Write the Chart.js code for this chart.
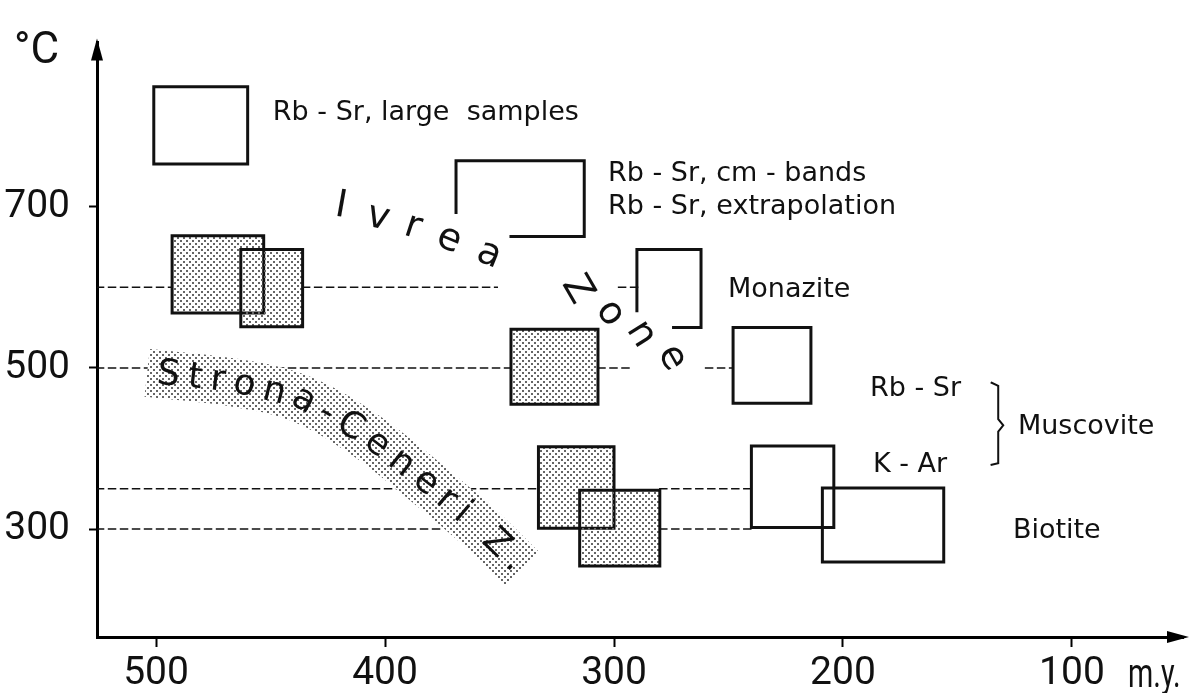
<!DOCTYPE html>
<html>
<head>
<meta charset="utf-8">
<script src="https://cdn.jsdelivr.net/npm/chart.js@4"></script>
<style>
  html, body { margin: 0; padding: 0; background: #fff; }
  #wrap { width: 1195px; height: 693px; }
</style>
</head>
<body>
<div id="wrap"><canvas id="chart" width="1195" height="693"></canvas></div>
<script>
// axis ticks (age in m.y., temperature in °C)
const xTicks = [500, 400, 300, 200, 100];
const yTicks = [300, 500, 700];

// boxes: [older age, younger age, low T, high T]
const rbSrLarge = [501, 460, 753, 849];
const rbSrMuscovite = [248, 214, 456, 550];
const kArMuscovite = [240, 204, 302, 403];
const biotiteBox = [209, 156, 259, 351];

// shaded boxes of the Strona-Ceneri zone
const shadedA = [493, 453, 568, 664];
const shadedB = [463, 436, 551, 647];
const shadedC = [345, 307, 455, 548];
const shadedD = [333, 300, 301, 402];
const shadedE = [315, 280, 254, 348];

// open brackets [age, T]
const cmBands = [[369, 693], [369, 757], [313, 757], [313, 663], [345, 663]];
const monazite = [[290, 571], [290, 647], [262, 647], [262, 550], [274, 550]];
const muscoviteBrace = [[135.1, 481.6], [132.2, 477.6], [132.2, 436.5], [130.0, 428.8], [132.2, 420.9], [132.2, 381.8], [135.1, 379.8]];

// dashed isotherms and the age ranges where they are drawn
const isoTemps = [600, 500, 350, 300];
const isoSegments = [
    [[526, 493], [436, 351], [298, 289.5]],
    [[526, 345], [307, 293], [260, 248]],
    [[526, 333], [280, 240]],
    [[526, 375], [280, 240]]
];

// centre line of the Strona-Ceneri band [age, T]
const bandPath = [[503.9, 493.7], [466.4, 481.9], [437.1, 462.0], [407.9, 415.0], [379.0, 350.5], [358.5, 301.2], [340.2, 250.7]];

// axis range
const X_MIN = 51.5, X_MAX = 525.8, Y_MIN = 166, Y_MAX = 904;

const TEXT_FONT = "'DejaVu Sans', 'Liberation Sans', sans-serif";
const NUM_FONT = "Roboto, 'Liberation Sans', sans-serif";

document.addEventListener('DOMContentLoaded', function() {
    drawFigure();
});

function makeDots(withBackground) {
    const c = document.createElement('canvas');
    c.width = 6;
    c.height = 6;
    const g = c.getContext('2d');
    if (withBackground) {
        g.fillStyle = '#fff';
        g.fillRect(0, 0, 6, 6);
    }
    g.fillStyle = '#666';
    g.fillRect(0, 0, 2, 2);
    g.fillRect(3, 3, 2, 2);
    return g.createPattern(c, 'repeat');
}

function boxPoints(b) {
    return [
        { x: b[0], y: b[2] }, { x: b[1], y: b[2] }, { x: b[1], y: b[3] },
        { x: b[0], y: b[3] }, { x: b[0], y: b[2] }
    ];
}

function pairPoints(list) {
    return list.map(p => ({ x: p[0], y: p[1] }));
}

function isoPoints(temp, segs) {
    const pts = [];
    segs.forEach((s, i) => {
        if (i > 0) pts.push({ x: (segs[i - 1][1] + s[0]) / 2, y: null });
        pts.push({ x: s[0], y: temp }, { x: s[1], y: temp });
    });
    return pts;
}

function drawTextAlongPath(ctx, pts, text, start, end) {
    const cum = [0];
    for (let i = 1; i < pts.length; i++) {
        cum.push(cum[i - 1] + Math.hypot(pts[i].x - pts[i - 1].x, pts[i].y - pts[i - 1].y));
    }
    const chars = [...text];
    const widths = chars.map(c => ctx.measureText(c).width);
    const total = widths.reduce((a, b) => a + b, 0);
    const gap = (end - start - total) / (chars.length - 1);
    let d = start;
    chars.forEach((c, k) => {
        const mid = d + widths[k] / 2;
        let i = 1;
        while (i < cum.length - 1 && cum[i] < mid) i++;
        const t = (mid - cum[i - 1]) / (cum[i] - cum[i - 1]);
        const px = pts[i - 1].x + t * (pts[i].x - pts[i - 1].x);
        const py = pts[i - 1].y + t * (pts[i].y - pts[i - 1].y);
        const ang = Math.atan2(pts[i].y - pts[i - 1].y, pts[i].x - pts[i - 1].x);
        ctx.save();
        ctx.translate(px, py);
        ctx.rotate(ang);
        ctx.fillText(c, 0, 0);
        ctx.restore();
        d += widths[k] + gap;
    });
}

// plain labels: [text, age of left edge, T of baseline]
const plainLabels = [
    ['Rb - Sr, large  samples', 449, 808],
    ['Rb - Sr, cm - bands', 302.6, 732],
    ['Rb - Sr, extrapolation', 302.6, 691],
    ['Monazite', 250.2, 588],
    ['Rb - Sr', 188.2, 465.5],
    ['K - Ar', 186.9, 370.4],
    ['Muscovite', 123.6, 418.5],
    ['Biotite', 125.8, 289.4]
];

// rotated letters of "Ivrea Zone": [char, age, T, degrees]
const ivreaLetters = [
    ['I', 419.2, 700.2, 10], ['v', 403.1, 686.2, 14], ['r', 387.8, 674.4, 18],
    ['e', 372.1, 659.2, 22], ['a', 354.6, 640.4, 22],
    ['Z', 316.2, 597.0, 60], ['o', 301.7, 567.6, 55], ['n', 288.2, 541.8, 58], ['e', 274.7, 512.4, 60]
];

const figureText = {
    id: 'figureText',
    afterDatasetsDraw(chart) {
        const ctx = chart.ctx;
        const xs = chart.scales.x;
        const ys = chart.scales.y;
        ctx.save();
        ctx.fillStyle = '#111';

        ctx.font = '27px ' + TEXT_FONT;
        ctx.textAlign = 'left';
        ctx.textBaseline = 'alphabetic';
        plainLabels.forEach(l => {
            ctx.fillText(l[0], xs.getPixelForValue(l[1]), ys.getPixelForValue(l[2]));
        });

        ctx.font = '38px ' + TEXT_FONT;
        ctx.textAlign = 'center';
        ctx.textBaseline = 'middle';
        ivreaLetters.forEach(l => {
            ctx.save();
            ctx.translate(xs.getPixelForValue(l[1]), ys.getPixelForValue(l[2]));
            ctx.rotate(l[3] * Math.PI / 180);
            ctx.fillText(l[0], 0, 0);
            ctx.restore();
        });

        // text along the Strona-Ceneri band
        const band = chart.getDatasetMeta(chart.data.datasets.findIndex(d => d.label === 'band')).data;
        const pts = band.map(p => ({ x: p.x, y: p.y }));
        let len = 0;
        for (let i = 1; i < pts.length; i++) len += Math.hypot(pts[i].x - pts[i - 1].x, pts[i].y - pts[i - 1].y);
        ctx.font = '36px ' + TEXT_FONT;
        drawTextAlongPath(ctx, pts, 'Strona-Ceneri Z.', 10, len - 4);
        ctx.restore();
    },
    afterDraw(chart) {
        const ctx = chart.ctx;
        const area = chart.chartArea;
        ctx.save();
        ctx.fillStyle = '#000';
        // arrow heads
        ctx.beginPath();
        ctx.moveTo(area.left, area.top - 4);
        ctx.lineTo(area.left - 6, area.top + 18);
        ctx.lineTo(area.left + 6, area.top + 18);
        ctx.closePath();
        ctx.fill();
        ctx.beginPath();
        ctx.moveTo(area.right + 6, area.bottom);
        ctx.lineTo(area.right - 16, area.bottom - 6);
        ctx.lineTo(area.right - 16, area.bottom + 6);
        ctx.closePath();
        ctx.fill();

        ctx.fillStyle = '#111';
        ctx.font = '44px ' + NUM_FONT;
        ctx.textAlign = 'left';
        ctx.textBaseline = 'alphabetic';
        ctx.fillText('\u00B0C', 14, 63);

        // unit label, condensed
        ctx.font = '40px ' + NUM_FONT;
        ctx.translate(chart.scales.x.getPixelForValue(75.5), 687);
        ctx.scale(0.72, 1);
        ctx.fillText('m.y.', 0, 0);
        ctx.restore();
    }
};

function drawFigure() {
    const ctx = document.getElementById('chart').getContext('2d');
    const dotsClear = makeDots(false);
    const dotsWhite = makeDots(true);

    const datasets = [];
    isoTemps.forEach((t, i) => {
        datasets.push({
            label: 'iso' + t,
            data: isoPoints(t, isoSegments[i]),
            borderColor: '#111',
            borderWidth: 1.5,
            borderDash: [7, 5],
            spanGaps: false
        });
    });
    datasets.push({
        label: 'band',
        data: pairPoints(bandPath),
        borderColor: dotsWhite,
        borderWidth: 48,
        tension: 0.35,
        borderCapStyle: 'butt',
        borderJoinStyle: 'round'
    });
    [shadedA, shadedB, shadedC, shadedD, shadedE].forEach((b, i) => {
        datasets.push({
            label: 'shaded' + i,
            data: boxPoints(b),
            borderColor: '#111',
            borderWidth: 3,
            backgroundColor: dotsClear,
            fill: 'shape'
        });
    });
    [rbSrLarge, rbSrMuscovite, kArMuscovite, biotiteBox].forEach((b, i) => {
        datasets.push({
            label: 'open' + i,
            data: boxPoints(b),
            borderColor: '#111',
            borderWidth: 3
        });
    });
    [cmBands, monazite].forEach((b, i) => {
        datasets.push({
            label: 'bracket' + i,
            data: pairPoints(b),
            borderColor: '#111',
            borderWidth: 3
        });
    });
    datasets.push({
        label: 'brace',
        data: pairPoints(muscoviteBrace),
        borderColor: '#111',
        borderWidth: 2
    });
    // painter's order: later datasets on top
    datasets.forEach((d, i) => {
        d.order = -i;
        d.pointRadius = 0;
        d.borderCapStyle = d.borderCapStyle || 'square';
        d.borderJoinStyle = d.borderJoinStyle || 'miter';
        if (d.fill === undefined) d.fill = false;
    });

    new Chart(ctx, {
        type: 'line',
        data: { datasets: datasets },
        options: {
            responsive: false,
            animation: false,
            events: [],
            layout: { padding: { top: 8, right: 12, left: 0, bottom: 0 } },
            plugins: {
                legend: { display: false },
                tooltip: { enabled: false }
            },
            scales: {
                x: {
                    type: 'linear',
                    reverse: true,
                    min: X_MIN,
                    max: X_MAX,
                    afterBuildTicks: axis => { axis.ticks = xTicks.map(v => ({ value: v })); },
                    afterFit: axis => { axis.height = 56; },
                    border: { display: true, color: '#000', width: 3 },
                    grid: {
                        drawOnChartArea: false,
                        drawTicks: true,
                        tickLength: 10,
                        tickWidth: 2,
                        tickColor: '#000'
                    },
                    ticks: {
                        color: '#111',
                        padding: 4,
                        maxRotation: 0,
                        autoSkip: false,
                        font: { family: NUM_FONT, size: 39 }
                    }
                },
                y: {
                    type: 'linear',
                    min: Y_MIN,
                    max: Y_MAX,
                    afterBuildTicks: axis => { axis.ticks = yTicks.map(v => ({ value: v })); },
                    afterFit: axis => { axis.width = 97; },
                    border: { display: true, color: '#000', width: 3 },
                    grid: {
                        drawOnChartArea: false,
                        drawTicks: true,
                        tickLength: 8,
                        tickWidth: 2,
                        tickColor: '#000'
                    },
                    ticks: {
                        color: '#111',
                        padding: 19,
                        autoSkip: false,
                        font: { family: NUM_FONT, size: 39 }
                    }
                }
            }
        },
        plugins: [figureText]
    });
}
</script>
</body>
</html>
